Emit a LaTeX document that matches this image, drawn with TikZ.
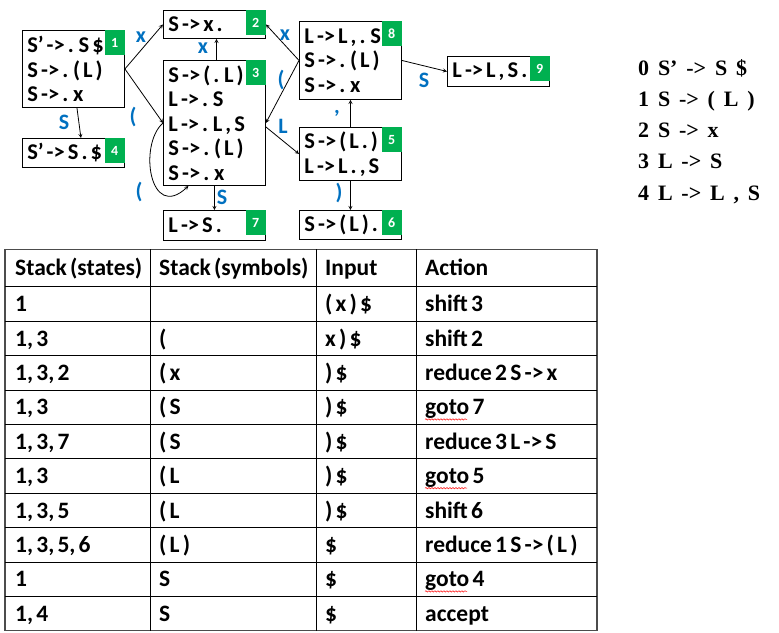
\documentclass[tikz,border=0pt]{standalone}
\usepackage{fontspec}
\newfontfamily\calibri{Carlito}[WordSpace=0.6]
\newfontfamily\timesbold{Liberation Serif}[WordSpace=1.6]
\usetikzlibrary{decorations.pathmorphing}
\definecolor{boxgreen}{HTML}{00B050}
\definecolor{lblblue}{HTML}{0070C0}

\begin{document}
\begin{tikzpicture}[x=1pt,y=-1pt,>=stealth,
  item/.style={rectangle,draw=black,line width=.9pt,anchor=north west,inner xsep=5pt,inner ysep=0pt,text width=92pt,align=left,font=\calibri\bfseries\fontsize{22.5}{24.5}\selectfont,execute at begin node={\spaceskip=0pt\xspaceskip=0pt}},
  num/.style={rectangle,fill=boxgreen,text=white,anchor=north east,minimum width=20pt,minimum height=25pt,inner sep=0pt,font=\calibri\bfseries\fontsize{14}{14}\selectfont},
  lbl/.style={text=lblblue,inner sep=0pt,font=\calibri\bfseries\fontsize{22}{22}\selectfont},
  trans/.style={->,line width=.8pt},
  cellt/.style={anchor=base west,inner sep=0pt,font=\calibri\bfseries\fontsize{23.5}{23.5}\selectfont},
  gram/.style={anchor=base west,inner sep=0pt,font=\timesbold\bfseries\fontsize{22}{22}\selectfont}]
\useasboundingbox (0,0) rectangle (779,632);

% item sets
\node at (22,30) [item,minimum height=77pt] (S1) {S’ -> . S \$\\S -> . ( L )\\S -> . x};
\node at (163,10) [item,minimum height=28pt] (S2) {S -> x .};
\node at (163,60) [item,minimum height=125pt] (S3) {S -> ( . L )\\L -> . S\\L -> . L , S\\S -> . ( L )\\S -> . x};
\node at (22,138) [item,minimum height=29pt] (S4) {S’ -> S . \$};
\node at (299,127) [item,minimum height=53pt] (S5) {S -> ( L . )\\L -> L . , S};
\node at (299,210) [item,minimum height=29pt] (S6) {S -> ( L ) .};
\node at (163,210) [item,minimum height=30pt] (S7) {L -> S .};
\node at (299,21) [item,minimum height=78pt] (S8) {L -> L , . S\\S -> . ( L )\\S -> . x};
\node at (447,56) [item,minimum height=30pt] (S9) {L -> L , S .};
\node at (S1.north east) [num] (N1) {1};
\node at (S2.north east) [num] (N2) {2};
\node at (S3.north east) [num] (N3) {3};
\node at (S4.north east) [num] (N4) {4};
\node at (S5.north east) [num] (N5) {5};
\node at (S6.north east) [num] (N6) {6};
\node at (S7.north east) [num] (N7) {7};
\node at (S8.north east) [num] (N8) {8};
\node at (S9.north east) [num] (N9) {9};

% transitions
\draw [trans] (S1.east) -- (S2.west);
\draw [trans] (S1.east) -- (S3.west);
\draw [trans] ([xshift=3.5pt]S1.south) -- ([xshift=7.5pt]S4.north);
\draw [trans] ([xshift=2pt]S3.north) -- ([xshift=2pt]S2.south);
\draw [trans] (S3.west) .. controls (138,145) and (150,222) .. ([xshift=-26pt]S3.south);
\draw [trans] (S3.south) -- (S7.north);
\draw [trans] (S8.west) -- (S2.east);
\draw [trans] (S8.west) -- (S3.east);
\draw [trans] ([yshift=-4pt]S3.east) -- (S5.west);
\draw [trans] (S5.north) -- (S8.south);
\draw [trans] (S5.south) -- (S6.north);
\draw [trans] (S8.east) -- (S9.west);
\node at (141,37) [lbl] (L12) {x};
\node at (133,117) [lbl] (L13) {(};
\node at (64,122) [lbl] (L14) {S};
\node at (203,48) [lbl] (L32) {x};
\node at (139,192) [lbl] (L33) {(};
\node at (222,197) [lbl] (L37) {S};
\node at (285,35) [lbl] (L82) {x};
\node at (281,80) [lbl] (L83) {(};
\node at (283,126) [lbl] (L35) {L};
\node at (337,113) [lbl] (L58) {,};
\node at (339,193) [lbl] (L56) {)};
\node at (424,80) [lbl] (L89) {S};

% grammar
\node at (638,75) [gram] (G0) {0 S’ -> S \$};
\node at (638,106.3) [gram] (G1) {1 S -> ( L )};
\node at (638,137.6) [gram] (G2) {2 S -> x};
\node at (638,168.9) [gram] (G3) {3 L -> S};
\node at (638,200.2) [gram] (G4) {4 L -> L , S};

% parse table
\draw [line width=1.1pt,black!70] (5,249.3) rectangle (597,630.7);
\draw [line width=.8pt] (150,249.3) -- (150,630.7) (316,249.3) -- (316,630.7) (416,249.3) -- (416,630.7);
\draw [line width=.8pt] (5,286.7) -- (597,286.7) (5,321.1) -- (597,321.1) (5,355.5) -- (597,355.5)
  (5,389.9) -- (597,389.9) (5,424.3) -- (597,424.3) (5,458.7) -- (597,458.7) (5,493.1) -- (597,493.1)
  (5,527.5) -- (597,527.5) (5,561.9) -- (597,561.9) (5,596.3) -- (597,596.3);
\node at (15,275) [cellt] (H1) {Stack (states)}; \node at (159,275) [cellt] (H2) {Stack (symbols)}; \node at (325,275) [cellt] (H3) {Input}; \node at (425,275) [cellt] (H4) {Action};
\node at (15,311.7) [cellt] (r1s) {1}; \node at (325,311.7) [cellt] (r1i) {( x ) \$}; \node at (425,311.7) [cellt] (r1a) {shift 3};
\node at (15,346.1) [cellt] (r2s) {1, 3}; \node at (159,346.1) [cellt] (r2y) {(}; \node at (325,346.1) [cellt] (r2i) {x ) \$}; \node at (425,346.1) [cellt] (r2a) {shift 2};
\node at (15,380.5) [cellt] (r3s) {1, 3, 2}; \node at (159,380.5) [cellt] (r3y) {( x}; \node at (325,380.5) [cellt] (r3i) {) \$}; \node at (425,380.5) [cellt] (r3a) {reduce 2 S -> x};
\node at (15,414.9) [cellt] (r4s) {1, 3}; \node at (159,414.9) [cellt] (r4y) {( S}; \node at (325,414.9) [cellt] (r4i) {) \$}; \node at (425,414.9) [cellt] (r4a) {goto 7};
\node at (15,449.3) [cellt] (r5s) {1, 3, 7}; \node at (159,449.3) [cellt] (r5y) {( S}; \node at (325,449.3) [cellt] (r5i) {) \$}; \node at (425,449.3) [cellt] (r5a) {reduce 3 L -> S};
\node at (15,483.7) [cellt] (r6s) {1, 3}; \node at (159,483.7) [cellt] (r6y) {( L}; \node at (325,483.7) [cellt] (r6i) {) \$}; \node at (425,483.7) [cellt] (r6a) {goto 5};
\node at (15,518.1) [cellt] (r7s) {1, 3, 5}; \node at (159,518.1) [cellt] (r7y) {( L}; \node at (325,518.1) [cellt] (r7i) {) \$}; \node at (425,518.1) [cellt] (r7a) {shift 6};
\node at (15,552.5) [cellt] (r8s) {1, 3, 5, 6}; \node at (159,552.5) [cellt] (r8y) {( L )}; \node at (325,552.5) [cellt] (r8i) {\$}; \node at (425,552.5) [cellt] (r8a) {reduce 1 S -> ( L )};
\node at (15,586.9) [cellt] (r9s) {1}; \node at (159,586.9) [cellt] (r9y) {S}; \node at (325,586.9) [cellt] (r9i) {\$}; \node at (425,586.9) [cellt] (r9a) {goto 4};
\node at (15,621.3) [cellt] (r10s) {1, 4}; \node at (159,621.3) [cellt] (r10y) {S}; \node at (325,621.3) [cellt] (r10i) {\$}; \node at (425,621.3) [cellt] (r10a) {accept};
% spell-check marks
\draw [red,line width=.5pt,decorate,decoration={snake,amplitude=.7pt,segment length=3pt}] ([yshift=-4.5pt]r4a.base west) -- ++(42,0);
\draw [red,line width=.5pt,decorate,decoration={snake,amplitude=.7pt,segment length=3pt}] ([yshift=-4.5pt]r6a.base west) -- ++(42,0);
\draw [red,line width=.5pt,decorate,decoration={snake,amplitude=.7pt,segment length=3pt}] ([yshift=-4.5pt]r9a.base west) -- ++(42,0);

\end{tikzpicture}
\end{document}
